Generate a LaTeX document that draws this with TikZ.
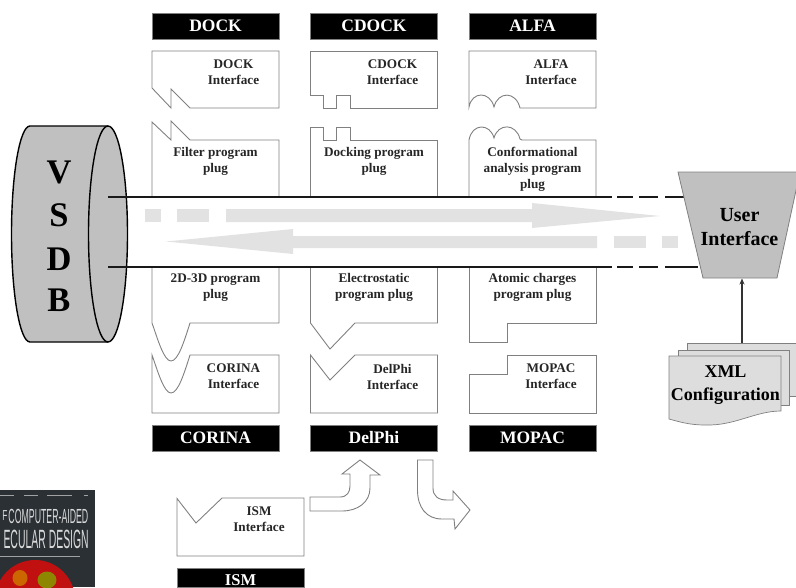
\documentclass[tikz,border=0pt]{standalone}
\usetikzlibrary{arrows.meta}
\usepackage{fontspec}
\setmainfont{Liberation Serif}
\newfontfamily\coverfont{Liberation Sans}
\definecolor{gbody}{HTML}{C0C0C0}
\definecolor{flow}{HTML}{E2E2E2}
\definecolor{outl}{HTML}{808080}
\definecolor{pagefill}{HTML}{DDDDDD}
\definecolor{cover}{HTML}{2B3035}
\definecolor{redc}{HTML}{C01010}
\tikzset{
  part/.style={draw=outl,line width=0.9pt,fill=white,line join=miter},
  blackbox/.style={draw=outl,line width=0.5pt,fill=black,text=white,font=\bfseries\fontsize{17.5}{18}\selectfont,minimum width=127pt,minimum height=26pt,inner sep=0pt,anchor=center},
  lab/.style={font=\bfseries\fontsize{13.2}{16}\selectfont,align=center,inner sep=0pt,text=black!85},
  uilab/.style={font=\bfseries\fontsize{20}{24}\selectfont,align=center,inner sep=0pt},
  xmllab/.style={font=\bfseries\fontsize{18}{22.5}\selectfont,align=center,inner sep=0pt},
  vsdb/.style={font=\bfseries\fontsize{34.5}{36}\selectfont,inner sep=0pt},
  flowfill/.style={fill=flow,draw=none},
  rail/.style={line width=2pt,draw=black!90},
  paper/.style={draw=outl,line width=0.7pt,fill=pagefill},
  bent/.style={draw=outl,line width=0.9pt,fill=white},
  covertext/.style={text=white!85!black,inner sep=0pt,font=\coverfont\fontsize{12}{12}\selectfont},
  smudge/.style={draw=white!55!cover,line width=1pt},
}
\begin{document}
\begin{tikzpicture}[x=1pt,y=-1pt]
\useasboundingbox (0,0) rectangle (796,587);
% book cover
\fill[cover] (0,490) rectangle (95,587);
\begin{scope}
\clip (0,490) rectangle (95,587);
\draw[smudge] (0,495) -- (14,495) (24,495) -- (38,495) (47,495) -- (72,495) (84,495) -- (88,495);
\draw[smudge,line width=0.8pt] (0,556) -- (80,556);
\fill[redc] (35,600) circle (40);
\fill[orange!80!black] (20,578) ellipse (7.5 and 8);
\fill[olive] (47,580) ellipse (9.5 and 8.5);
\node[covertext,anchor=east] (coverA) at (88.5,516.5) {\scalebox{0.73}[1.7]{COMPUTER-AIDED}};
\node[covertext] (coverF) at (5,516) {\scalebox{0.7}[1.2]{F}};
\node[covertext,anchor=east] (coverB) at (89,539) {\scalebox{0.87}[2.2]{ECULAR DESIGN}};
\end{scope}
% VSDB
\draw[fill=gbody,draw=black,line width=1.4pt] (30,126) -- (108,126) arc[start angle=-90,end angle=90,x radius=19.5,y radius=108] -- (30,342) arc[start angle=90,end angle=270,x radius=18.5,y radius=108] -- cycle;
\draw[draw=black,line width=1.4pt] (108,126) arc[start angle=-90,end angle=-270,x radius=19.5,y radius=108];
\node[vsdb] (v) at (59,172) {V};
\node[vsdb] (s) at (59,215) {S};
\node[vsdb] (d) at (59,259) {D};
\node[vsdb] (b) at (59,300) {B};
% top row
\node[blackbox] (dock) at (215.5,26) {DOCK};
\node[blackbox] (cdock) at (374,26) {CDOCK};
\node[blackbox] (alfa) at (532.5,26) {ALFA};
\draw[part] (152,51) -- (279,51) -- (279,108) -- (190,108) -- (171,89) -- (171,108) -- (152,88) -- cycle;
\draw[part] (310.5,51) -- (437.5,51) -- (437.5,108) -- (350,108) -- (350,95) -- (336,95) -- (336,108) -- (323,108) -- (323,95) -- (310.5,95) -- cycle;
\draw[part] (469,51) -- (596,51) -- (596,108) -- (520,108) .. controls (516,91) and (498,91) .. (494,107) .. controls (490,91) and (472,91) .. (469,107) -- cycle;
\node[lab] (dockI) at (233.5,72.5) {DOCK\\Interface};
\node[lab] (cdockI) at (392.5,72.5) {CDOCK\\Interface};
\node[lab] (alfaI) at (551,72.5) {ALFA\\Interface};
% upper plugs
\draw[part] (152,197) -- (152,122) -- (171,140) -- (171,121) -- (190,140) -- (279,140) -- (279,197);
\draw[part] (310.5,197) -- (310.5,127) -- (323,127) -- (323,140) -- (336,140) -- (336,127) -- (350,127) -- (350,140) -- (437.5,140) -- (437.5,197);
\draw[part] (469,197) -- (469,140) .. controls (472,123) and (490,123) .. (494,138) .. controls (498,123) and (516,123) .. (520,139) -- (522,140) -- (596,140) -- (596,197);
\node[lab] (filt) at (215.5,161.5) {Filter program\\plug};
\node[lab] (dkp) at (374,161.5) {Docking program\\plug};
\node[lab] (conf) at (532.5,169.5) {Conformational\\analysis program\\plug};
% lower plugs
\draw[part] (152,267) -- (152,323) .. controls (158,340) and (164,361) .. (171,361) .. controls (178,361) and (184,342) .. (190,323) -- (279,323) -- (279,267);
\draw[part] (310.5,267) -- (310.5,323) -- (330,349) -- (355,323) -- (437.5,323) -- (437.5,267);
\draw[part] (469,267) -- (469,342) -- (507,342) -- (507,323.5) -- (596,323.5) -- (596,267);
\node[lab] (tdp) at (215.5,287.5) {2D-3D program\\plug};
\node[lab] (esp) at (374,287.5) {Electrostatic\\program plug};
\node[lab] (acp) at (532.5,287.5) {Atomic charges\\program plug};
% lower interfaces
\draw[part] (152,355) .. controls (158,372) and (164,393) .. (171,393) .. controls (178,393) and (184,374) .. (190,355) -- (279,355) -- (279,413) -- (152,413) -- cycle;
\draw[part] (310.5,355) -- (330,380) -- (355,355) -- (437.5,355) -- (437.5,413) -- (310.5,413) -- cycle;
\draw[part] (469,374) -- (507,374) -- (507,355) -- (596,355) -- (596,413) -- (469,413) -- cycle;
\node[lab] (corI) at (233.5,376.5) {CORINA\\Interface};
\node[lab] (delI) at (392.5,376.5) {DelPhi\\Interface};
\node[lab] (mopI) at (551,376.5) {MOPAC\\Interface};
\node[blackbox] (corina) at (215.5,438) {CORINA};
\node[blackbox] (delphi) at (374,438) {DelPhi};
\node[blackbox] (mopac) at (532.5,438) {MOPAC};
% flow arrows
\fill[flowfill] (145,209) rectangle (161,222);
\fill[flowfill] (177,209) rectangle (209,222);
\fill[flowfill] (226,209) -- (532,209) -- (532,203) -- (660,216) -- (532,228) -- (532,222) -- (226,222) -- cycle;
\fill[flowfill] (662,236) rectangle (678,248);
\fill[flowfill] (614,236) rectangle (646,248);
\fill[flowfill] (597,236) -- (293,236) -- (293,229) -- (166,241.5) -- (293,254) -- (293,248) -- (597,248) -- cycle;
% rails
\draw[rail] (108,197) -- (612,197);
\draw[rail] (108,266.5) -- (612,266.5);
\draw[rail] (617,197) -- (633,197) (639,197) -- (658,197) (665,197) -- (686,197);
\draw[rail] (617,266.5) -- (633,266.5) (639,266.5) -- (658,266.5) (665,266.5) -- (698,266.5);
% user interface
\draw[fill=gbody,draw=outl,line width=0.8pt] (678,172) -- (800,172) -- (777,278) -- (703,278) -- cycle;
\node[uilab] (ui) at (739.5,227) {User\\Interface};
% xml
\draw[paper] (687,343) -- (800,343) -- (800,396) -- (687,396) -- cycle;
\draw[paper] (678,350) -- (789,350) -- (789,405) -- (678,405) -- cycle;
\draw[paper] (669,356) -- (781,356) -- (781,411) .. controls (755,411) and (735,426) .. (705,425) .. controls (690,425) and (680,422) .. (669,419) -- cycle;
\node[xmllab] (xml) at (725.5,385) {XML\\Configuration};
\coordinate (xmltop) at (742,343);
\coordinate (uibot) at (742,278.5);
\draw[-{Stealth[length=6pt,width=5pt]},line width=1.1pt,draw=black!80] (xmltop) -- (uibot);
% ism
\draw[part] (177,498.5) -- (196,523) -- (222,498) -- (304,498) -- (304,556) -- (177,556) -- cycle;
\node[lab] (ismI) at (259,519.5) {ISM\\Interface};
\node[blackbox,anchor=north,minimum height=19pt] (ism) at (240.5,568) {};
\node[anchor=base,text=white,inner sep=0pt,font=\bfseries\fontsize{16.5}{18}\selectfont] (ismT) at (240.5,585) {ISM};
% bent arrows
\draw[bent] (310,497) -- (340,497) .. controls (347,497) and (350,492) .. (350,486) -- (350,474) -- (342,474) -- (360,460) -- (380,475) -- (370,475) -- (370,488) .. controls (370,502) and (358,511) .. (342,511) -- (310,511) -- cycle;
\draw[bent] (417.5,460) -- (433,460) -- (433,488) .. controls (433,496) and (438,500) .. (447,500) -- (453,500) -- (453,491) -- (470,510) -- (455,529) -- (454,519) -- (442,519) .. controls (426,519) and (417.5,507) .. (417.5,490) -- cycle;
\end{tikzpicture}
\end{document}
